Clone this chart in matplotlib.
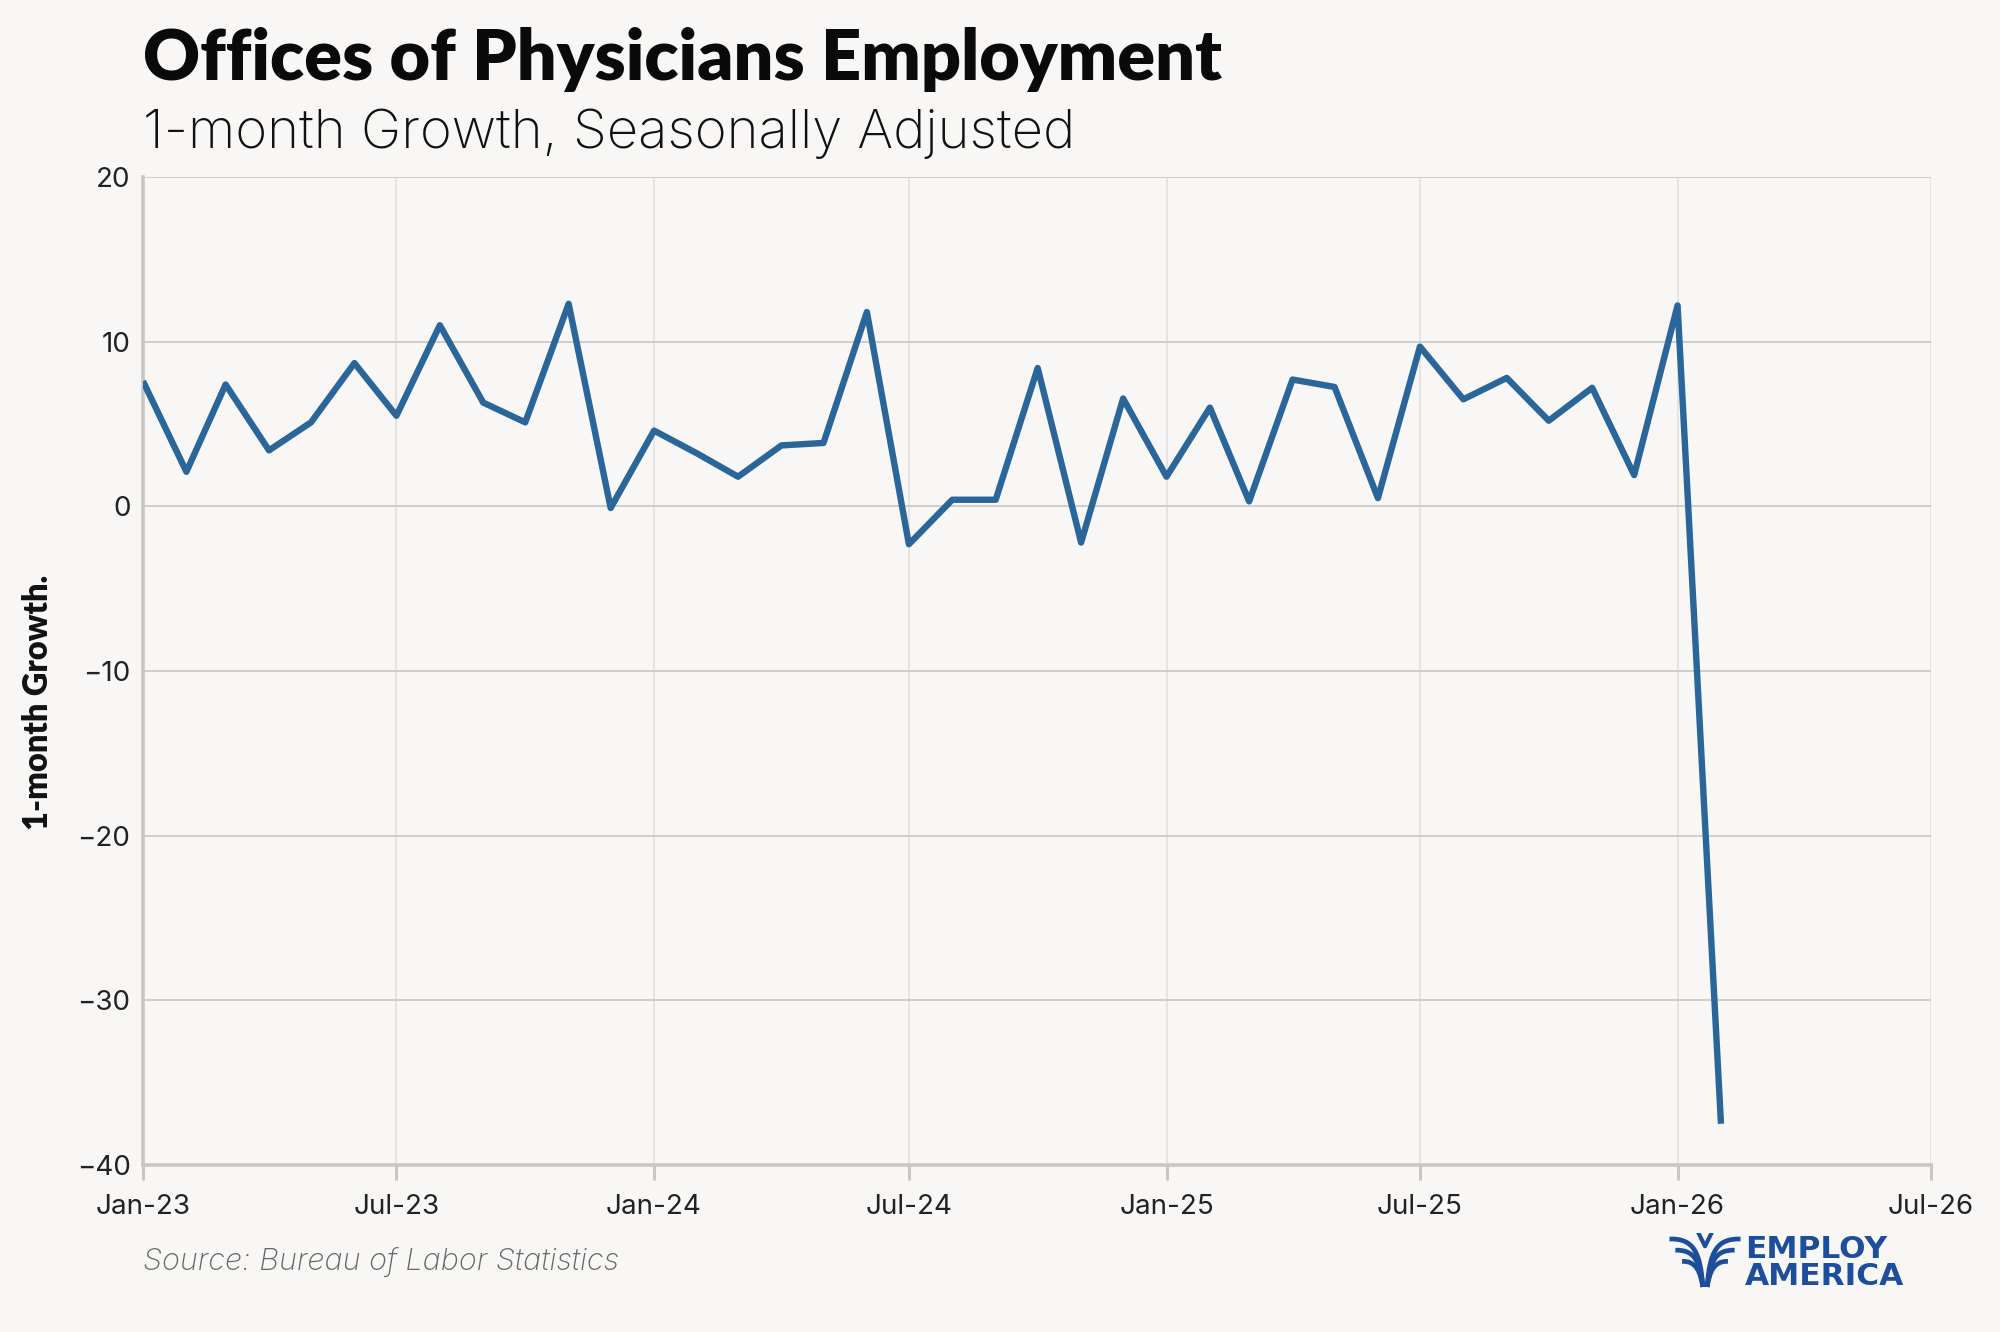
import matplotlib
matplotlib.use('Agg')
import matplotlib.pyplot as plt
import matplotlib.dates as mdates
import pandas as pd
from matplotlib.patches import PathPatch
from matplotlib.path import Path

# 1-month growth, offices of physicians (thousands), Jan-23 .. Feb-26
start_month = '2023-01-01'
growth = [7.6, 2.1, 7.4, 3.4, 5.1, 8.7, 5.5, 11.0, 6.3, 5.1, 12.3, -0.1,
          4.6, 3.2, 1.8, 3.7, 3.85, 11.8, -2.3, 0.4, 0.4, 8.4, -2.2, 6.55,
          1.8, 6.0, 0.3, 7.7, 7.25, 0.5, 9.7, 6.5, 7.8, 5.2, 7.2, 1.9,
          12.2, -37.5]
months = pd.date_range(start_month, periods=len(growth), freq='MS')

y_ticks = [-40, -30, -20, -10, 0, 10, 20]
x_lim = (pd.Timestamp('2023-01-01'), pd.Timestamp('2026-07-01'))

bg = '#f8f7f5'
line_col = '#2a6699'
logo_col = '#1d4e9b'
tick_font = 'Inter'

fig = plt.figure(figsize=(20, 13.32), dpi=100, facecolor=bg)
ax = fig.add_axes([0.0715, 0.1254, 0.894, 0.7417])
ax.set_facecolor(bg)

ax.plot(months, growth, color=line_col, lw=4.6, solid_joinstyle='round', solid_capstyle='butt', zorder=3)

ax.set_ylim(-40, 20)
ax.set_yticks(y_ticks)
ax.set_yticklabels([str(v).replace('-', '\u2212') for v in y_ticks])
ax.set_xlim(*x_lim)
ax.xaxis.set_major_locator(mdates.MonthLocator(bymonth=[1, 7]))
ax.xaxis.set_major_formatter(mdates.DateFormatter('%b-%y'))

ax.grid(axis='y', color='#cfcdcb', lw=1.4, zorder=0)
ax.grid(axis='x', color='#e0dfdd', lw=1.1, zorder=0)

for s in ['top', 'right']:
    ax.spines[s].set_visible(False)
for s in ['left', 'bottom']:
    ax.spines[s].set_color('#c8c7c5')
    ax.spines[s].set_linewidth(2.6)

ax.tick_params(axis='y', length=0, pad=9, labelsize=20, labelcolor='#222222')
ax.tick_params(axis='x', length=11, width=2.2, color='#c8c7c5', pad=10, labelsize=20, labelcolor='#222222')
for lab in ax.get_xticklabels() + ax.get_yticklabels():
    lab.set_family(tick_font)
    lab.set_fontweight('normal')

ax.set_ylabel('1-month Growth.', fontsize=23.5, fontweight='heavy', family='Lato', color='#111111')
ax.yaxis.set_label_coords(-0.050, 0.468)

fig.text(0.0715, 0.940, 'Offices of Physicians Employment', fontsize=50.5, fontweight='heavy',
         family='Lato', color='#0a0a0a', va='baseline')
fig.text(0.0715, 0.889, '1-month Growth, Seasonally Adjusted', fontsize=39.2, fontweight='light',
         family=tick_font, color='#111111', va='baseline')
fig.text(0.0715, 0.047, 'Source: Bureau of Labor Statistics', fontsize=22, style='italic',
         fontweight='light', family=tick_font, color='#666666', va='baseline')

# logo
fig.text(0.8724, 0.0556, 'EMPLOY', fontsize=22.5, fontweight='bold', family='DejaVu Sans', color=logo_col, va='baseline')
fig.text(0.8724, 0.0354, 'AMERICA', fontsize=22.5, fontweight='bold', family='DejaVu Sans', color=logo_col, va='baseline')
lax = fig.add_axes([0.834, 0.032, 0.037, 0.042])
lax.set_xlim(0, 10)
lax.set_ylim(0, 7)
lax.axis('off')
for side in [-1, 1]:
    for k, (y0, ln) in enumerate([(6.3, 4.8), (4.9, 4.0), (3.5, 3.1)]):
        x0 = 5 + side * ln
        verts = [(x0, y0), (5 + side * ln * 0.35, y0 + 0.1), (5 + side * 0.6, y0 - 1.5), (5 + side * 0.3, 0.3)]
        p = Path(verts, [Path.MOVETO, Path.CURVE4, Path.CURVE4, Path.CURVE4])
        lax.add_patch(PathPatch(p, fc='none', ec=logo_col, lw=3.4))
lax.plot([4.2, 5.0, 5.8], [6.9, 5.4, 6.9], color=logo_col, lw=3)

fig.savefig('out.png', dpi=100, facecolor=bg)
